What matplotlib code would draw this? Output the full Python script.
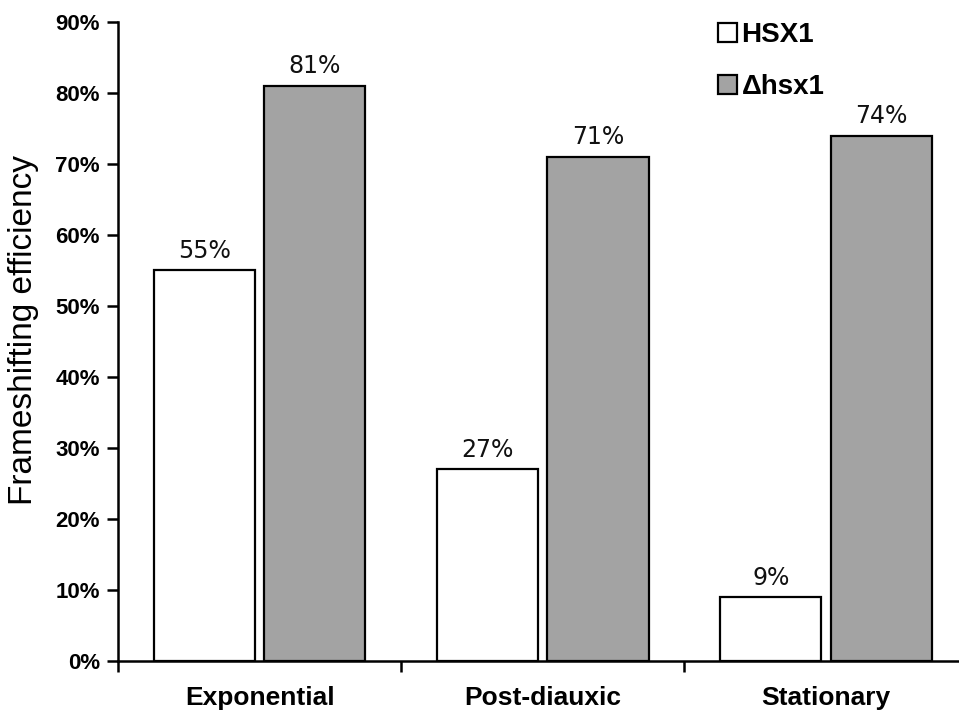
import matplotlib
matplotlib.use("Agg")
import matplotlib.pyplot as plt
from matplotlib.patches import Patch
import numpy as np

categories = ["Exponential", "Post-diauxic", "Stationary"]
hsx1 = [55, 27, 9]
dhsx1 = [81, 71, 74]
series_names = ["HSX1", "\u0394hsx1"]
yticks = [0, 10, 20, 30, 40, 50, 60, 70, 80, 90]
ytick_labels = [f"{v}%" for v in yticks]

FAM = ["Liberation Sans", "DejaVu Sans"]
plt.rcParams['font.family'] = FAM

W, H = 959, 711
fig = plt.figure(figsize=(W / 100, H / 100), dpi=100)
ax = fig.add_axes([118 / W, 50 / H, (W - 118) / W, 639 / H])

x = np.arange(len(categories))
bw = 0.357
off = 0.195
gray = "#a3a3a3"
b1 = ax.bar(x - off, hsx1, bw, color="white", edgecolor="black", linewidth=1.6, zorder=3)
b2 = ax.bar(x + off, dhsx1, bw, color=gray, edgecolor="black", linewidth=1.6, zorder=3)

for bars, vals in ((b1, hsx1), (b2, dhsx1)):
    for r, v in zip(bars, vals):
        ax.annotate(f"{v}%", (r.get_x() + r.get_width() / 2, v), xytext=(0, 9),
                    textcoords="offset points", ha="center", va="baseline",
                    fontsize=17, family="DejaVu Sans", color="#111111")

ax.set_xlim(-0.5, 2.47)
ax.set_ylim(0, 90)
ax.set_yticks(yticks)
ax.set_yticklabels(ytick_labels, fontsize=16, fontweight="bold")
ax.tick_params(axis="y", direction="out", length=8, width=1.8, pad=5)

ax.set_xticks(x)
ax.set_xticklabels(categories, fontsize=19, fontweight="bold")
ax.tick_params(axis="x", which="major", length=0, pad=18)
ax.set_xticks([-0.5, 0.5, 1.5], minor=True)
ax.tick_params(axis="x", which="minor", direction="out", length=8, width=1.8)

for s in ("top", "right"):
    ax.spines[s].set_visible(False)
for s in ("left", "bottom"):
    ax.spines[s].set_linewidth(1.8)

ax.set_ylabel("Frameshifting efficiency", fontsize=24)
ax.yaxis.set_label_coords(-0.094, 0.518)

handles = [Patch(facecolor="white", edgecolor="black", linewidth=1.6),
           Patch(facecolor=gray, edgecolor="black", linewidth=1.6)]
leg = fig.legend(handles, series_names, loc="upper left",
                 bbox_to_anchor=(718 / W, 1 - 22 / H), frameon=False,
                 prop={"weight": "bold", "size": 20},
                 handlelength=0.7, handleheight=0.7, handletextpad=0.15,
                 labelspacing=0.95, borderpad=0, borderaxespad=0)

fig.savefig("out.png", dpi=100)
